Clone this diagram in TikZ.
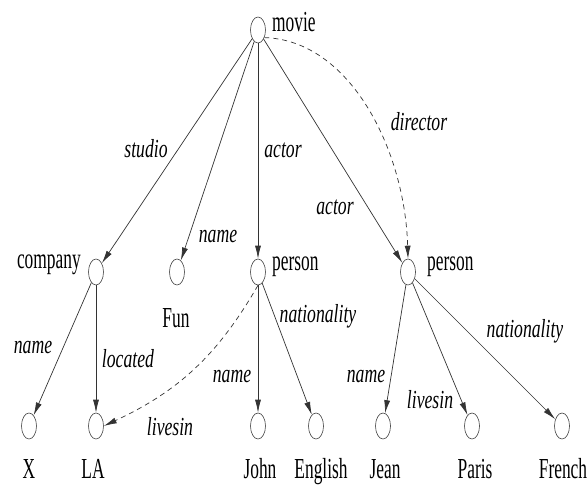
\documentclass[tikz,border=0pt]{standalone}
\usepackage{fontspec}
\setmainfont{Liberation Serif}
\newfontfamily\vfont{Liberation Serif}[FakeStretch=0.6]
\newfontfamily\efont{Liberation Serif}[FakeStretch=0.68]
\usetikzlibrary{shapes.geometric,arrows.meta}
\begin{document}
\begin{tikzpicture}[x=1pt,y=-1pt,
  vert/.style={ellipse,draw=black!75,line width=0.6pt,minimum width=15pt,minimum height=26pt,inner sep=0pt},
  lbl/.style={inner sep=0pt,font=\vfont\fontsize{29}{31}\selectfont},
  elbl/.style={inner sep=0pt,font=\efont\fontsize{26}{28}\selectfont\itshape,anchor=base},
  edge/.style={draw=black!80,line width=0.7pt,-{Latex[length=13pt,width=6pt]}},
  dedge/.style={edge,dashed,dash pattern=on 5pt off 4pt}]
\useasboundingbox (0,0) rectangle (588,484);
% vertices
\node[vert] (movie) at (258,30) {};
\node[vert] (company) at (96,272) {};
\node[vert] (fun) at (177,272) {};
\node[vert] (p1) at (258,272) {};
\node[vert] (p2) at (408,272) {};
\node[vert] (x) at (29,426) {};
\node[vert] (la) at (96,426) {};
\node[vert] (john) at (258,426) {};
\node[vert] (english) at (316,426) {};
\node[vert] (jean) at (383,426) {};
\node[vert] (paris) at (472,426) {};
\node[vert] (french) at (562,426) {};
% vertex labels
\node[lbl,anchor=base west] (tmovie) at (272,32) {movie};
\node[lbl,anchor=base east] (tcompany) at (81,268) {company};
\node[lbl,anchor=base west] (tp1) at (272,270) {person};
\node[lbl,anchor=base west] (tp2) at (427,270) {person};
\node[lbl,anchor=base] (tfun) at (176,327) {Fun};
\node[lbl,anchor=base] (tx) at (29,478) {X};
\node[lbl,anchor=base] (tla) at (93,478) {LA};
\node[lbl,anchor=base] (tjohn) at (260,478) {John};
\node[lbl,anchor=base] (tenglish) at (321,478) {English};
\node[lbl,anchor=base] (tjean) at (385,478) {Jean};
\node[lbl,anchor=base] (tparis) at (475,478) {Paris};
\node[lbl,anchor=base] (tfrench) at (563,478) {French};
% edges
\draw[edge] (movie) -- (company);
\draw[edge] (movie) -- (fun);
\draw[edge] (movie) -- (p1);
\draw[edge] (movie) -- (p2);
\draw[dedge] (movie.-50) .. controls (350,40) and (405,150) .. (p2.north);
\draw[edge] (company) -- (x);
\draw[edge] (company) -- (la);
\draw[dedge] (p1.south) to[out=-120,in=25] (la.east);
\draw[edge] (p1) -- (john);
\draw[edge] (p1) -- (english);
\draw[edge] (p2) -- (jean);
\draw[edge] (p2) -- (paris);
\draw[edge] (p2) -- (french);
% edge labels
\node[elbl] (lstudio) at (146,157) {studio};
\node[elbl] (lactor1) at (283,157) {actor};
\node[elbl] (ldirector) at (419,130) {director};
\node[elbl] (lactor2) at (335,214) {actor};
\node[elbl] (lname1) at (218,242) {name};
\node[elbl] (lname2) at (33,353) {name};
\node[elbl] (llocated) at (128,367) {located};
\node[elbl] (lnat1) at (318,322) {nationality};
\node[elbl] (lname3) at (232,382) {name};
\node[elbl] (llives1) at (170,435) {livesin};
\node[elbl] (lnat2) at (525,337) {nationality};
\node[elbl] (lname4) at (366,382) {name};
\node[elbl] (llives2) at (430,408) {livesin};
\end{tikzpicture}
\end{document}
